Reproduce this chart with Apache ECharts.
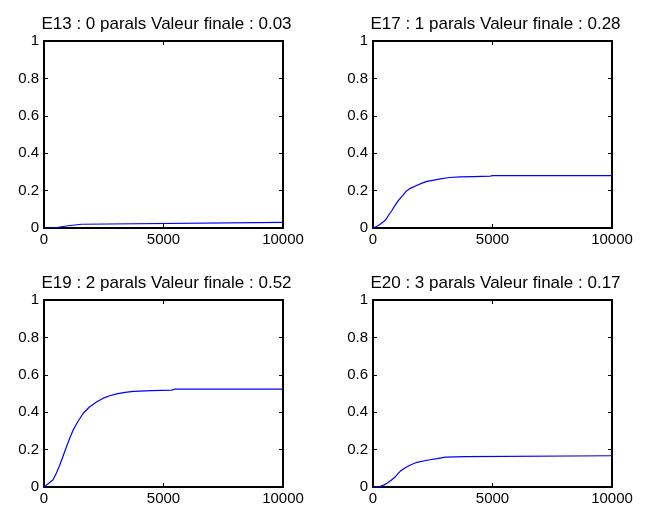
<!DOCTYPE html>
<html>
<head>
<meta charset="utf-8">
<script src="https://cdn.jsdelivr.net/npm/echarts@6/dist/echarts.min.js"></script>
<style>html,body{margin:0;padding:0;background:#fff}#c{width:652px;height:509px}</style>
</head>
<body>
<div id="c"></div>
<script>
const titles = [
  "E13 : 0 parals Valeur finale : 0.03",
  "E17 : 1 parals Valeur finale : 0.28",
  "E19 : 2 parals Valeur finale : 0.52",
  "E20 : 3 parals Valeur finale : 0.17"
];
const xTicks = [0, 5000, 10000];
const yTicks = [0, 0.2, 0.4, 0.6, 0.8, 1];

const e13X = [0, 240, 240, 590, 590, 1010, 1010, 1570, 1570, 10000];
const e13Y = [0, 0, 0.004, 0.004, 0.012, 0.012, 0.02, 0.02, 0.03, 0.03];

const e17X = [0, 150, 300, 516, 650, 795, 930, 1074, 1250, 1400, 1562, 1800, 2050, 2259, 2500, 2817, 3200, 3654, 4200, 4909, 5000, 10000];
const e17Y = [0, 0.008, 0.02, 0.041, 0.068, 0.095, 0.122, 0.149, 0.175, 0.198, 0.212, 0.226, 0.24, 0.249, 0.255, 0.263, 0.27, 0.273, 0.275, 0.277, 0.28, 0.28];

const e19X = [0, 200, 378, 520, 657, 800, 937, 1080, 1217, 1400, 1636, 1900, 2196, 2476, 2750, 3035, 3400, 3734, 4500, 5343, 5450, 10000];
const e19Y = [0, 0.02, 0.039, 0.075, 0.116, 0.166, 0.214, 0.262, 0.304, 0.346, 0.393, 0.428, 0.455, 0.475, 0.488, 0.498, 0.506, 0.511, 0.515, 0.518, 0.523, 0.523];

const e20X = [0, 150, 307, 450, 586, 760, 934, 1144, 1350, 1562, 1841, 2259, 2678, 3026, 3863, 3933, 10000];
const e20Y = [0, 0.001, 0.004, 0.01, 0.02, 0.036, 0.055, 0.085, 0.103, 0.118, 0.132, 0.143, 0.152, 0.16, 0.162, 0.167, 0.167];

const seriesX = [e13X, e17X, e19X, e20X];
const seriesY = [e13Y, e17Y, e19Y, e20Y];

const grids = [
  {left: 44, top: 41, width: 239, height: 187},
  {left: 373, top: 41, width: 239, height: 187},
  {left: 44, top: 300, width: 239, height: 187},
  {left: 373, top: 300, width: 239, height: 187}
];

const font = 'Liberation Sans, Arial, sans-serif';
const option = {
  animation: false,
  backgroundColor: '#ffffff',
  title: [], grid: [], xAxis: [], yAxis: [], series: []
};

grids.forEach((g, i) => {
  option.grid.push(Object.assign({show: true, borderWidth: 0, backgroundColor: '#fff'}, g));
  option.title.push({
    text: titles[i], left: g.left + g.width / 2 - 2, top: g.top - 30, textAlign: 'center',
    textStyle: {fontFamily: font, fontSize: 17, fontWeight: 'normal', color: '#000'}
  });
  const common = {
    type: 'value', gridIndex: i, splitLine: {show: false},
    axisLine: {show: true, onZero: false, lineStyle: {color: '#000', width: 2}},
    axisTick: {show: true, inside: true, length: 4, lineStyle: {color: '#000', width: 1}}
  };
  const lbl = {color: '#000', fontFamily: font, fontSize: 15, margin: 5, showMaxLabel: true, showMinLabel: true,
               formatter: v => String(v)};
  option.xAxis.push(Object.assign({}, common, {
    position: 'bottom', min: xTicks[0], max: xTicks[xTicks.length - 1], interval: xTicks[1] - xTicks[0],
    axisLabel: Object.assign({}, lbl, {margin: 4})
  }));
  option.xAxis.push(Object.assign({}, common, {
    position: 'top', min: xTicks[0], max: xTicks[xTicks.length - 1], interval: xTicks[1] - xTicks[0],
    axisLabel: {show: false}
  }));
  option.yAxis.push(Object.assign({}, common, {
    position: 'left', min: yTicks[0], max: yTicks[yTicks.length - 1], interval: yTicks[1] - yTicks[0],
    axisLabel: lbl
  }));
  option.yAxis.push(Object.assign({}, common, {
    position: 'right', min: yTicks[0], max: yTicks[yTicks.length - 1], interval: yTicks[1] - yTicks[0],
    axisLabel: {show: false}
  }));
  option.series.push({
    type: 'line', xAxisIndex: i * 2, yAxisIndex: i * 2,
    data: seriesX[i].map((x, k) => [x, seriesY[i][k]]),
    showSymbol: false, symbol: 'none',
    lineStyle: {color: '#0000ff', width: 1.2}, itemStyle: {color: '#0000ff'},
    clip: true
  });
});

const chart = echarts.init(document.getElementById('c'), null, {renderer: 'canvas'});
chart.setOption(option);
</script>
</body>
</html>
